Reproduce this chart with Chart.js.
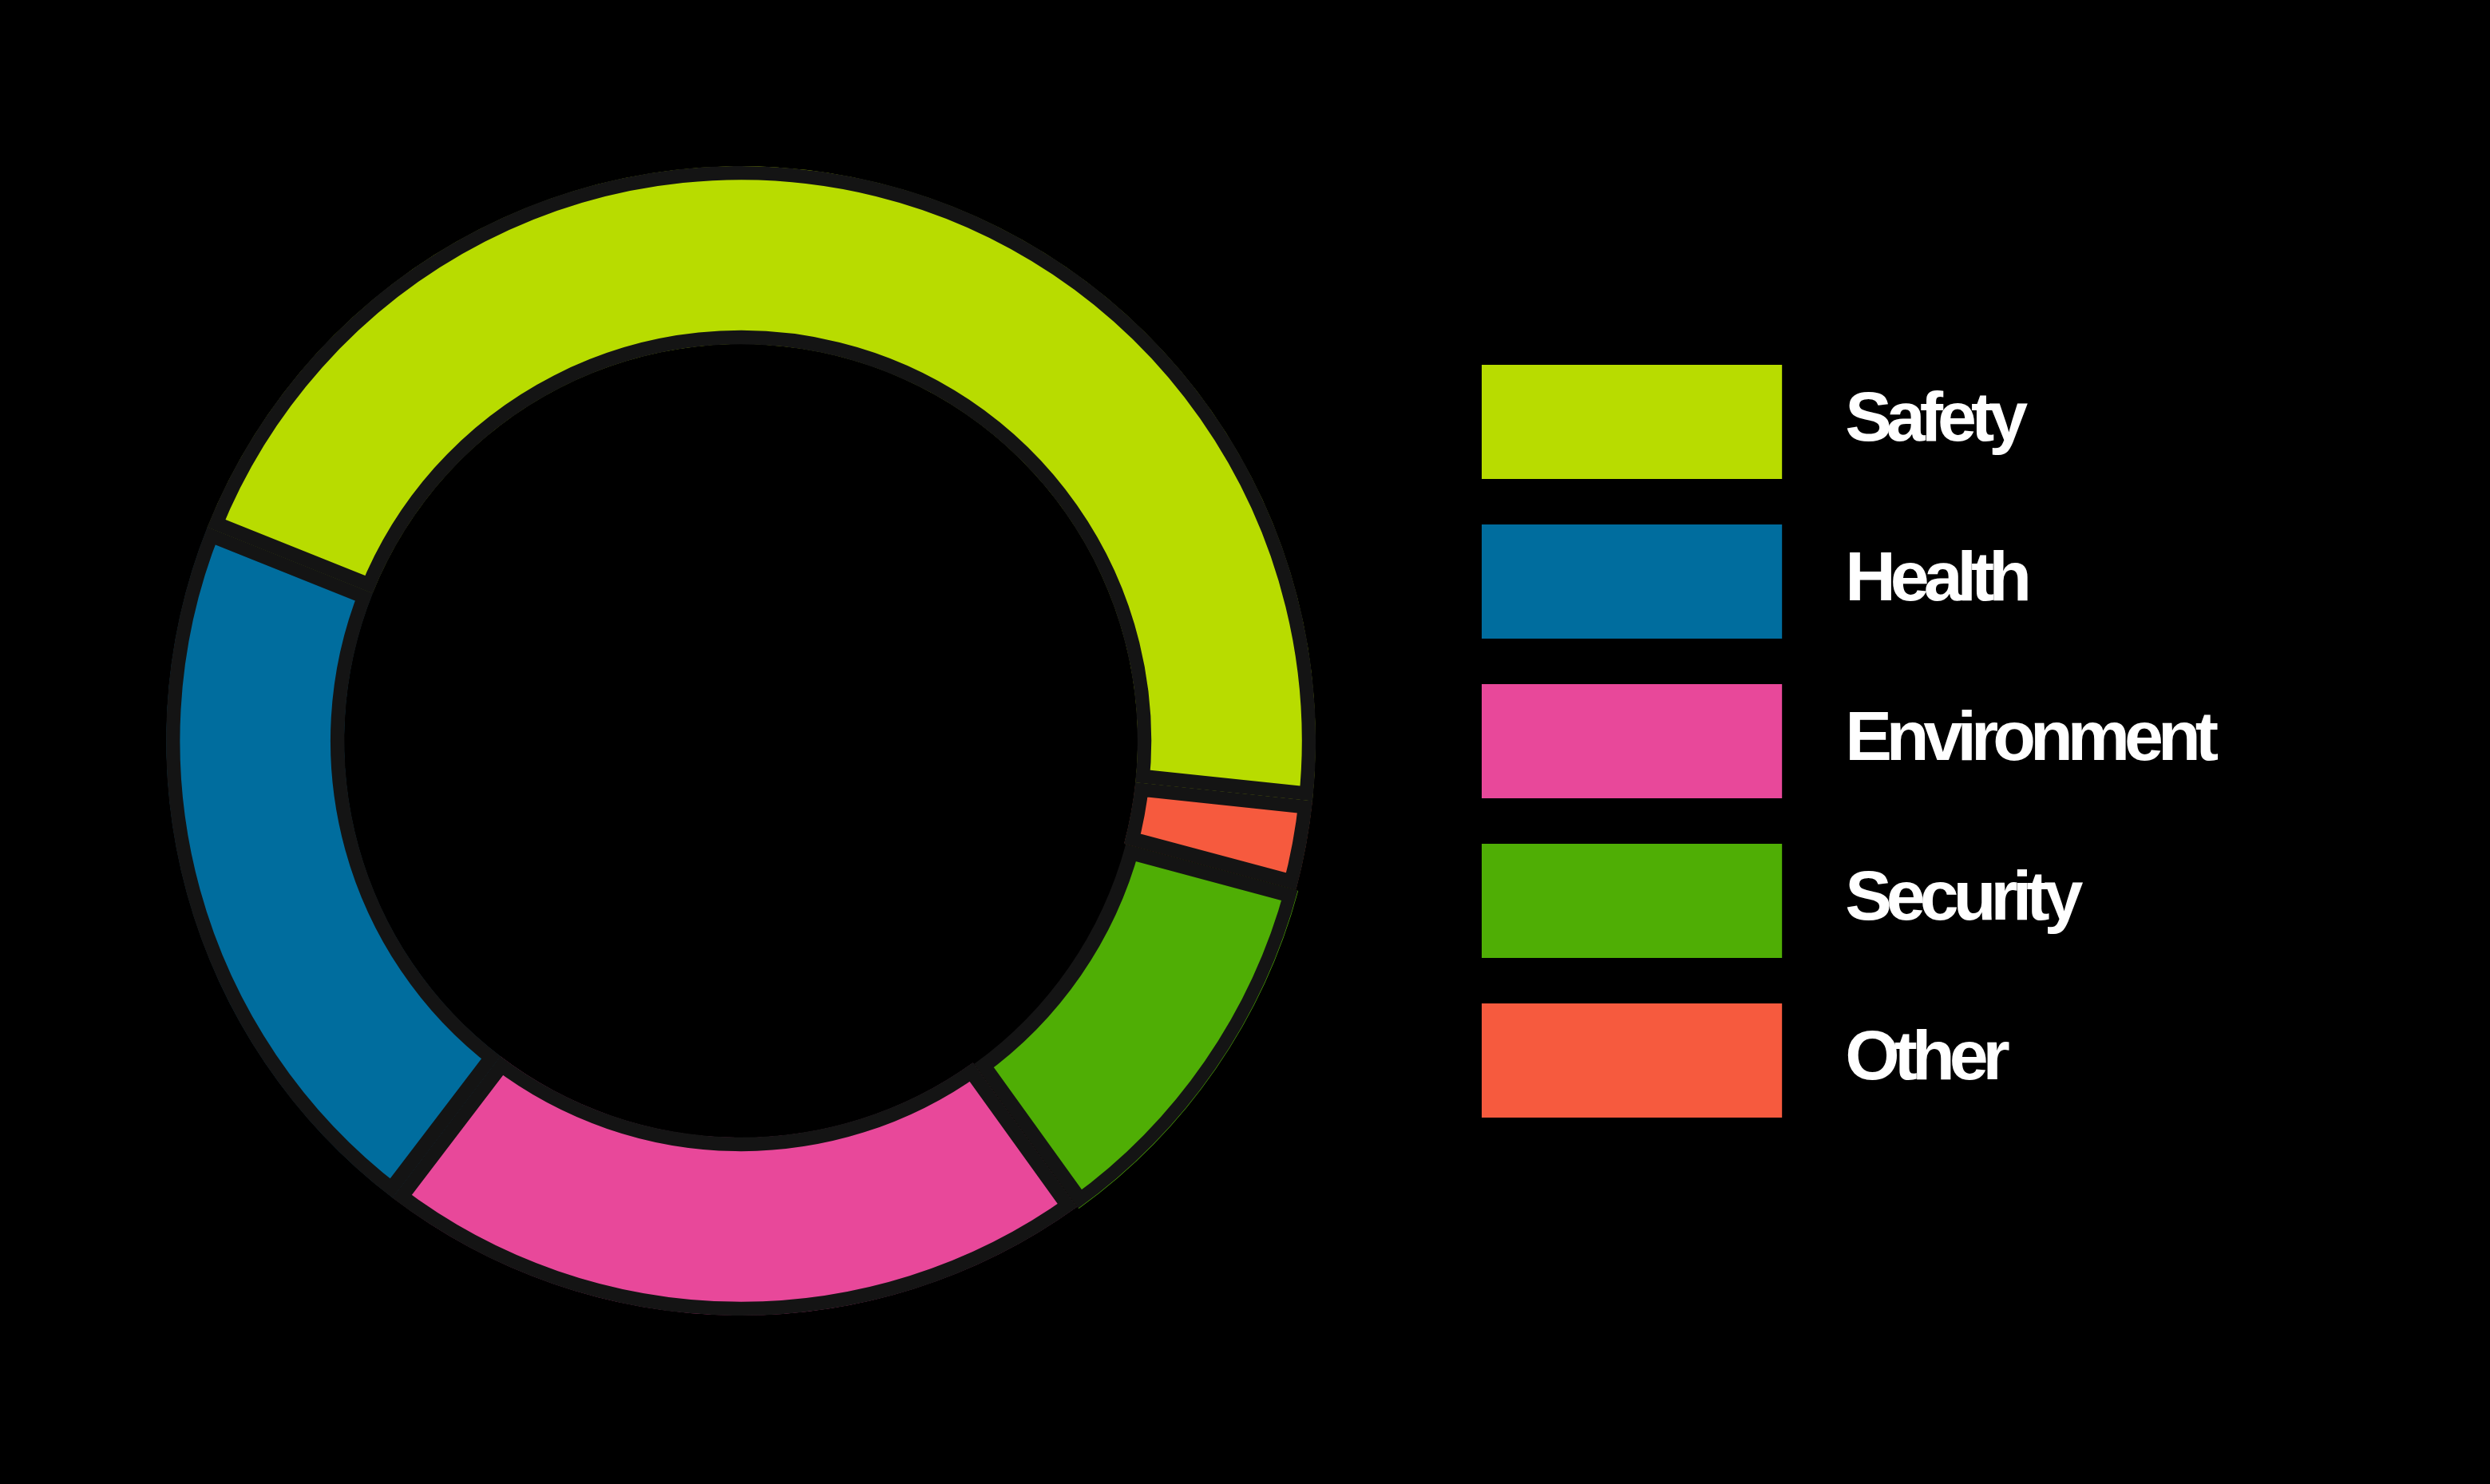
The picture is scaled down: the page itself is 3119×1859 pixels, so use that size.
<!DOCTYPE html>
<html>
<head>
<meta charset="utf-8">
<title>Category share</title>
<script src="https://cdn.jsdelivr.net/npm/chart.js@4.4.1/dist/chart.umd.min.js"></script>
<style>
    html, body {
        margin: 0;
        padding: 0;
        background: #000000;
    }
    #wrap {
        width: 3119px;
        height: 1859px;
    }
</style>
</head>
<body>
<div id="wrap">
    <canvas id="shareChart" width="3119" height="1859"></canvas>
</div>
<script>
// Data (legend order)
const categories = ['Safety', 'Health', 'Environment', 'Security', 'Other'];
const shares = [45.6, 20.7, 20.3, 10.9, 2.5];
const colors = ['#b8dc00', '#006d9e', '#e8489a', '#4fae05', '#f65a3e'];
const offsets = [0, 0, 0, 10, 0];

// the ring runs counter-clockwise in legend order, so feed it reversed
const rev = arr => arr.slice().reverse();

// legend swatch: a filled rect with some empty room on its right (gap before the text)
function makeSwatch(color) {
    const c = document.createElement('canvas');
    c.width = 411;
    c.height = 143;
    const g = c.getContext('2d');
    g.fillStyle = color;
    g.fillRect(0, 0, 376, 143);
    return c;
}

// squeeze the legend labels a bit (no narrow font installed)
const tightText = {
    id: 'tightText',
    beforeLayout(chart) {
        chart.ctx.letterSpacing = '-7px';
    },
    beforeDraw(chart) {
        chart.ctx.letterSpacing = '-7px';
    }
};

const ctx = document.getElementById('shareChart').getContext('2d');
const shareChart = new Chart(ctx, {
    type: 'doughnut',
    data: {
        labels: rev(categories),
        datasets: [{
            data: rev(shares),
            backgroundColor: rev(colors),
            borderColor: '#141414',
            borderWidth: 17,
            borderAlign: 'inner',
            offset: rev(offsets),
            hoverOffset: 0
        }]
    },
    options: {
        responsive: false,
        animation: false,
        events: [],
        devicePixelRatio: 1,
        cutout: '69%',
        rotation: 96,
        layout: {
            padding: { left: 112, right: 337, top: 203, bottom: 206 }
        },
        plugins: {
            tooltip: { enabled: false },
            legend: {
                position: 'right',
                align: 'center',
                reverse: true,
                labels: {
                    usePointStyle: true,
                    pointStyleWidth: 411,
                    boxHeight: 88,
                    padding: 112,
                    color: '#ffffff',
                    font: {
                        family: '"Liberation Sans", Arial, sans-serif',
                        size: 88,
                        weight: 'bold'
                    },
                    generateLabels: function (chart) {
                        const items = Chart.overrides.doughnut.plugins.legend.labels.generateLabels(chart);
                        items.forEach(item => {
                            item.pointStyle = makeSwatch(item.fillStyle);
                            item.lineWidth = 0;
                        });
                        return items;
                    }
                }
            }
        }
    },
    plugins: [tightText]
});
</script>
</body>
</html>
